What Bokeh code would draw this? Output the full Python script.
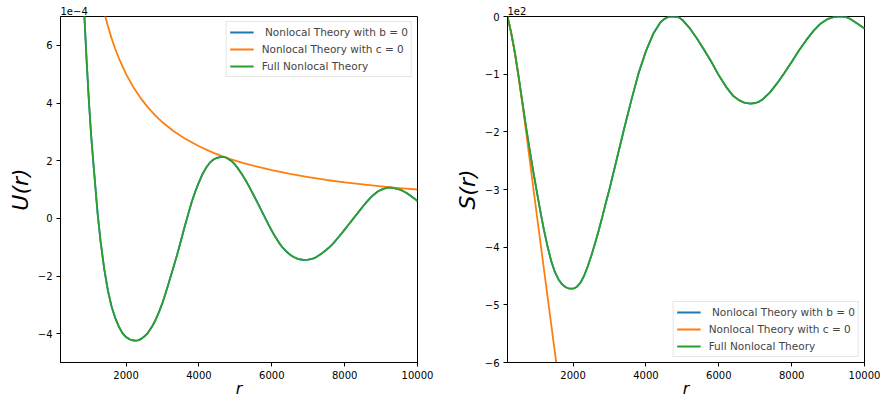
from bokeh.plotting import figure
from bokeh.layouts import row
from bokeh.models import FixedTicker, Legend, LegendItem, Range1d, Title
from bokeh.embed import file_html
from bokeh.resources import INLINE

# ---------------- data ----------------
# Left panel: U(r), values in units of 1e-4
r_u = [600, 700, 800, 860, 920, 980, 1040, 1100, 1160, 1220,
       1300, 1400, 1500, 1600, 1700, 1800, 1900, 2000, 2100, 2175,
       2250, 2325, 2400, 2500, 2600, 2700, 2800, 2900, 3000, 3100, 3200,
       3300, 3400, 3500, 3600, 3700, 3800, 3900, 4000, 4100, 4200,
       4300, 4400, 4500, 4580, 4650, 4720, 4800, 4900, 5000, 5100, 5200, 5300,
       5400, 5500, 5600, 5700, 5800, 5900, 6000, 6100, 6200, 6300,
       6400, 6500, 6600, 6700, 6800, 6870, 6930, 7000, 7100, 7200, 7350, 7500,
       7600, 7700, 7800, 7900, 8000, 8100, 8200, 8300, 8400, 8500,
       8600, 8700, 8800, 8900, 9000, 9100, 9160, 9220, 9280, 9350, 9500, 9600,
       9700, 9800, 9900, 10000]
u_full = [14.5, 11.6, 8.9, 6.9, 5.4, 4.05, 2.9, 1.95, 1.05, 0.15,
          -0.8, -1.75, -2.5, -3.05, -3.45, -3.75, -3.98, -4.12, -4.195, -4.228,
          -4.24, -4.23, -4.19, -4.10, -3.97, -3.78, -3.55, -3.26, -2.93, -2.54, -2.12,
          -1.70, -1.27, -0.80, -0.33, 0.12, 0.56, 0.93, 1.25, 1.54, 1.76,
          1.93, 2.04, 2.10, 2.125, 2.13, 2.12, 2.07, 1.98, 1.85, 1.68, 1.49, 1.28,
          1.05, 0.81, 0.56, 0.31, 0.06, -0.19, -0.43, -0.65, -0.85, -1.02,
          -1.15, -1.26, -1.34, -1.395, -1.428, -1.438, -1.44, -1.435, -1.41, -1.36, -1.24, -1.09,
          -0.98, -0.85, -0.70, -0.55, -0.39, -0.23, -0.07, 0.09, 0.25, 0.41,
          0.56, 0.70, 0.82, 0.92, 0.99, 1.04, 1.06, 1.07, 1.065, 1.05, 1.00, 0.95,
          0.88, 0.79, 0.70, 0.60]
u_b0 = list(u_full)  # b = 0 curve coincides with the full theory

r_u_c0 = [1300, 1400, 1500, 1600, 1700, 1800, 2000, 2200, 2400, 2600,
          2800, 3000, 3300, 3600, 4000, 4400, 4800, 5200, 5600, 6000,
          6500, 7000, 7500, 8000, 8500, 9000, 9500, 10000]
u_c0 = [7.69, 7.14, 6.67, 6.25, 5.88, 5.56, 5.00, 4.55, 4.17, 3.85,
        3.57, 3.33, 3.03, 2.78, 2.50, 2.27, 2.08, 1.92, 1.79, 1.67,
        1.54, 1.43, 1.33, 1.25, 1.18, 1.11, 1.05, 1.00]

# Right panel: S(r), values in units of 1e2
r_s = [200, 300, 400, 500, 600, 700, 800, 900, 1000, 1100,
       1200, 1300, 1400, 1500, 1600, 1700, 1800, 1870, 1950, 2030, 2100, 2200,
       2300, 2400, 2500, 2600, 2700, 2800, 2900, 3000, 3200, 3400,
       3600, 3800, 4000, 4200, 4400, 4500, 4600, 4680, 4760, 4840, 4920, 5000, 5200,
       5400, 5600, 5800, 6000, 6200, 6400, 6550, 6700, 6870, 7000, 7100, 7200,
       7400, 7600, 7800, 8000, 8200, 8400, 8600, 8800, 9000, 9150, 9270,
       9390, 9500, 9600, 9800, 10000]
s_full = [0.0, -0.28, -0.62, -1.02, -1.45, -1.88, -2.28, -2.66, -3.02, -3.37,
          -3.70, -3.99, -4.24, -4.43, -4.56, -4.645, -4.695, -4.713, -4.72, -4.713, -4.69, -4.62,
          -4.50, -4.34, -4.15, -3.94, -3.72, -3.48, -3.23, -2.99, -2.47, -1.95,
          -1.45, -0.98, -0.60, -0.30, -0.10, -0.045, -0.012, -0.002, 0.0, -0.004, -0.02, -0.06, -0.20,
          -0.38, -0.58, -0.79, -1.02, -1.22, -1.38, -1.45, -1.495, -1.51, -1.50, -1.48, -1.44,
          -1.32, -1.16, -0.98, -0.79, -0.59, -0.41, -0.25, -0.12, -0.04, -0.012,
          -0.002, 0.0, -0.01, -0.04, -0.12, -0.21]
s_b0 = list(s_full)  # b = 0 curve coincides with the full theory

r_s_c0 = [200, 300, 400, 500, 600, 700, 800, 900, 1000, 1100,
          1200, 1300, 1400, 1500, 1600]
s_c0 = [0.0, -0.28, -0.62, -1.03, -1.48, -1.95, -2.44, -2.93, -3.42, -3.90,
        -4.38, -4.86, -5.34, -5.82, -6.30]

series_labels = [" Nonlocal Theory with b = 0", "Nonlocal Theory with c = 0", "Full Nonlocal Theory"]

x_ticks = [2000, 4000, 6000, 8000, 10000]
x_tick_labels = ["2000", "4000", "6000", "8000", "10000"]
u_ticks = [-4, -2, 0, 2, 4, 6]
u_tick_labels = ["\u22124", "\u22122", "0", "2", "4", "6"]
s_ticks = [-6, -5, -4, -3, -2, -1, 0]
s_tick_labels = ["\u22126", "\u22125", "\u22124", "\u22123", "\u22122", "\u22121", "0"]

# ---------------- styling ----------------
FONT = "DejaVu Sans"
BLUE, ORANGE, GREEN = "#1f77b4", "#ff7f0e", "#2ca02c"
X_MIN, X_MAX = 200, 10000
H = 400
FRAME_W = 357
B_TOP, B_BOTTOM = 16, 36


def make_panel(width, b_left, y_lo, y_hi, yticks, ytick_labels, ylabel, offset_text,
               series, legend_loc):
    p = figure(width=width, height=H, output_backend="svg", toolbar_location=None,
               x_range=Range1d(X_MIN, X_MAX), y_range=Range1d(y_lo, y_hi),
               min_border_left=b_left, min_border_right=width - b_left - FRAME_W,
               min_border_top=B_TOP, min_border_bottom=B_BOTTOM)
    p.grid.visible = False
    p.outline_line_color = "black"
    p.outline_line_alpha = 1.0
    p.outline_line_width = 1
    p.background_fill_color = "white"
    p.border_fill_color = "white"

    for ax in (p.xaxis[0], p.yaxis[0]):
        ax.axis_line_color = "black"
        ax.major_tick_line_color = "black"
        ax.major_tick_out = 4
        ax.major_tick_in = 0
        ax.minor_tick_out = 0
        ax.minor_tick_in = 0
        ax.major_label_text_font = FONT
        ax.major_label_text_font_size = "10px"
        ax.major_label_text_color = "black"
        ax.major_label_standoff = 4
        ax.axis_label_text_font = FONT
        ax.axis_label_text_font_style = "italic"
        ax.axis_label_text_color = "black"
    p.xaxis.ticker = FixedTicker(ticks=x_ticks)
    p.xaxis.major_label_overrides = {t: s for t, s in zip(x_ticks, x_tick_labels)}
    p.xaxis.axis_label = "r"
    p.xaxis.axis_label_text_font_size = "16px"
    p.xaxis.axis_label_standoff = -3
    p.yaxis.ticker = FixedTicker(ticks=yticks)
    p.yaxis.major_label_overrides = {t: s for t, s in zip(yticks, ytick_labels)}
    p.yaxis.axis_label = ylabel
    p.yaxis.axis_label_text_font_size = "22px"
    p.yaxis.axis_label_standoff = 2

    renderers = []
    for (xs, ys, col) in series:
        renderers.append(p.line(xs, ys, line_color=col, line_width=1.8,
                                line_join="round"))

    items = [LegendItem(label=lab, renderers=[r]) for lab, r in zip(series_labels, renderers)]
    leg = Legend(items=items, location=legend_loc, margin=5, padding=3, spacing=3,
                 label_height=14, glyph_height=14, glyph_width=24, label_standoff=8,
                 label_text_font=FONT, label_text_font_size="10.5px",
                 border_line_color="#cccccc", border_line_width=1,
                 background_fill_color="white", background_fill_alpha=0.85)
    p.add_layout(leg)

    p.add_layout(Title(text=offset_text, align="left", text_font=FONT,
                       text_font_size="10px", text_font_style="normal",
                       text_color="black", standoff=3), "above")
    return p


p1 = make_panel(440, 60, -5, 7, u_ticks, u_tick_labels, "U(r)", "1e\u22124",
                [(r_u, u_b0, BLUE), (r_u_c0, u_c0, ORANGE), (r_u, u_full, GREEN)],
                "top_right")
p2 = make_panel(440, 67, -6, 0, s_ticks, s_tick_labels, "S(r)", "1e2",
                [(r_s, s_b0, BLUE), (r_s_c0, s_c0, ORANGE), (r_s, s_full, GREEN)],
                "bottom_right")

layout = row(p1, p2)
open("out.html", "w").write(file_html(layout, INLINE))
